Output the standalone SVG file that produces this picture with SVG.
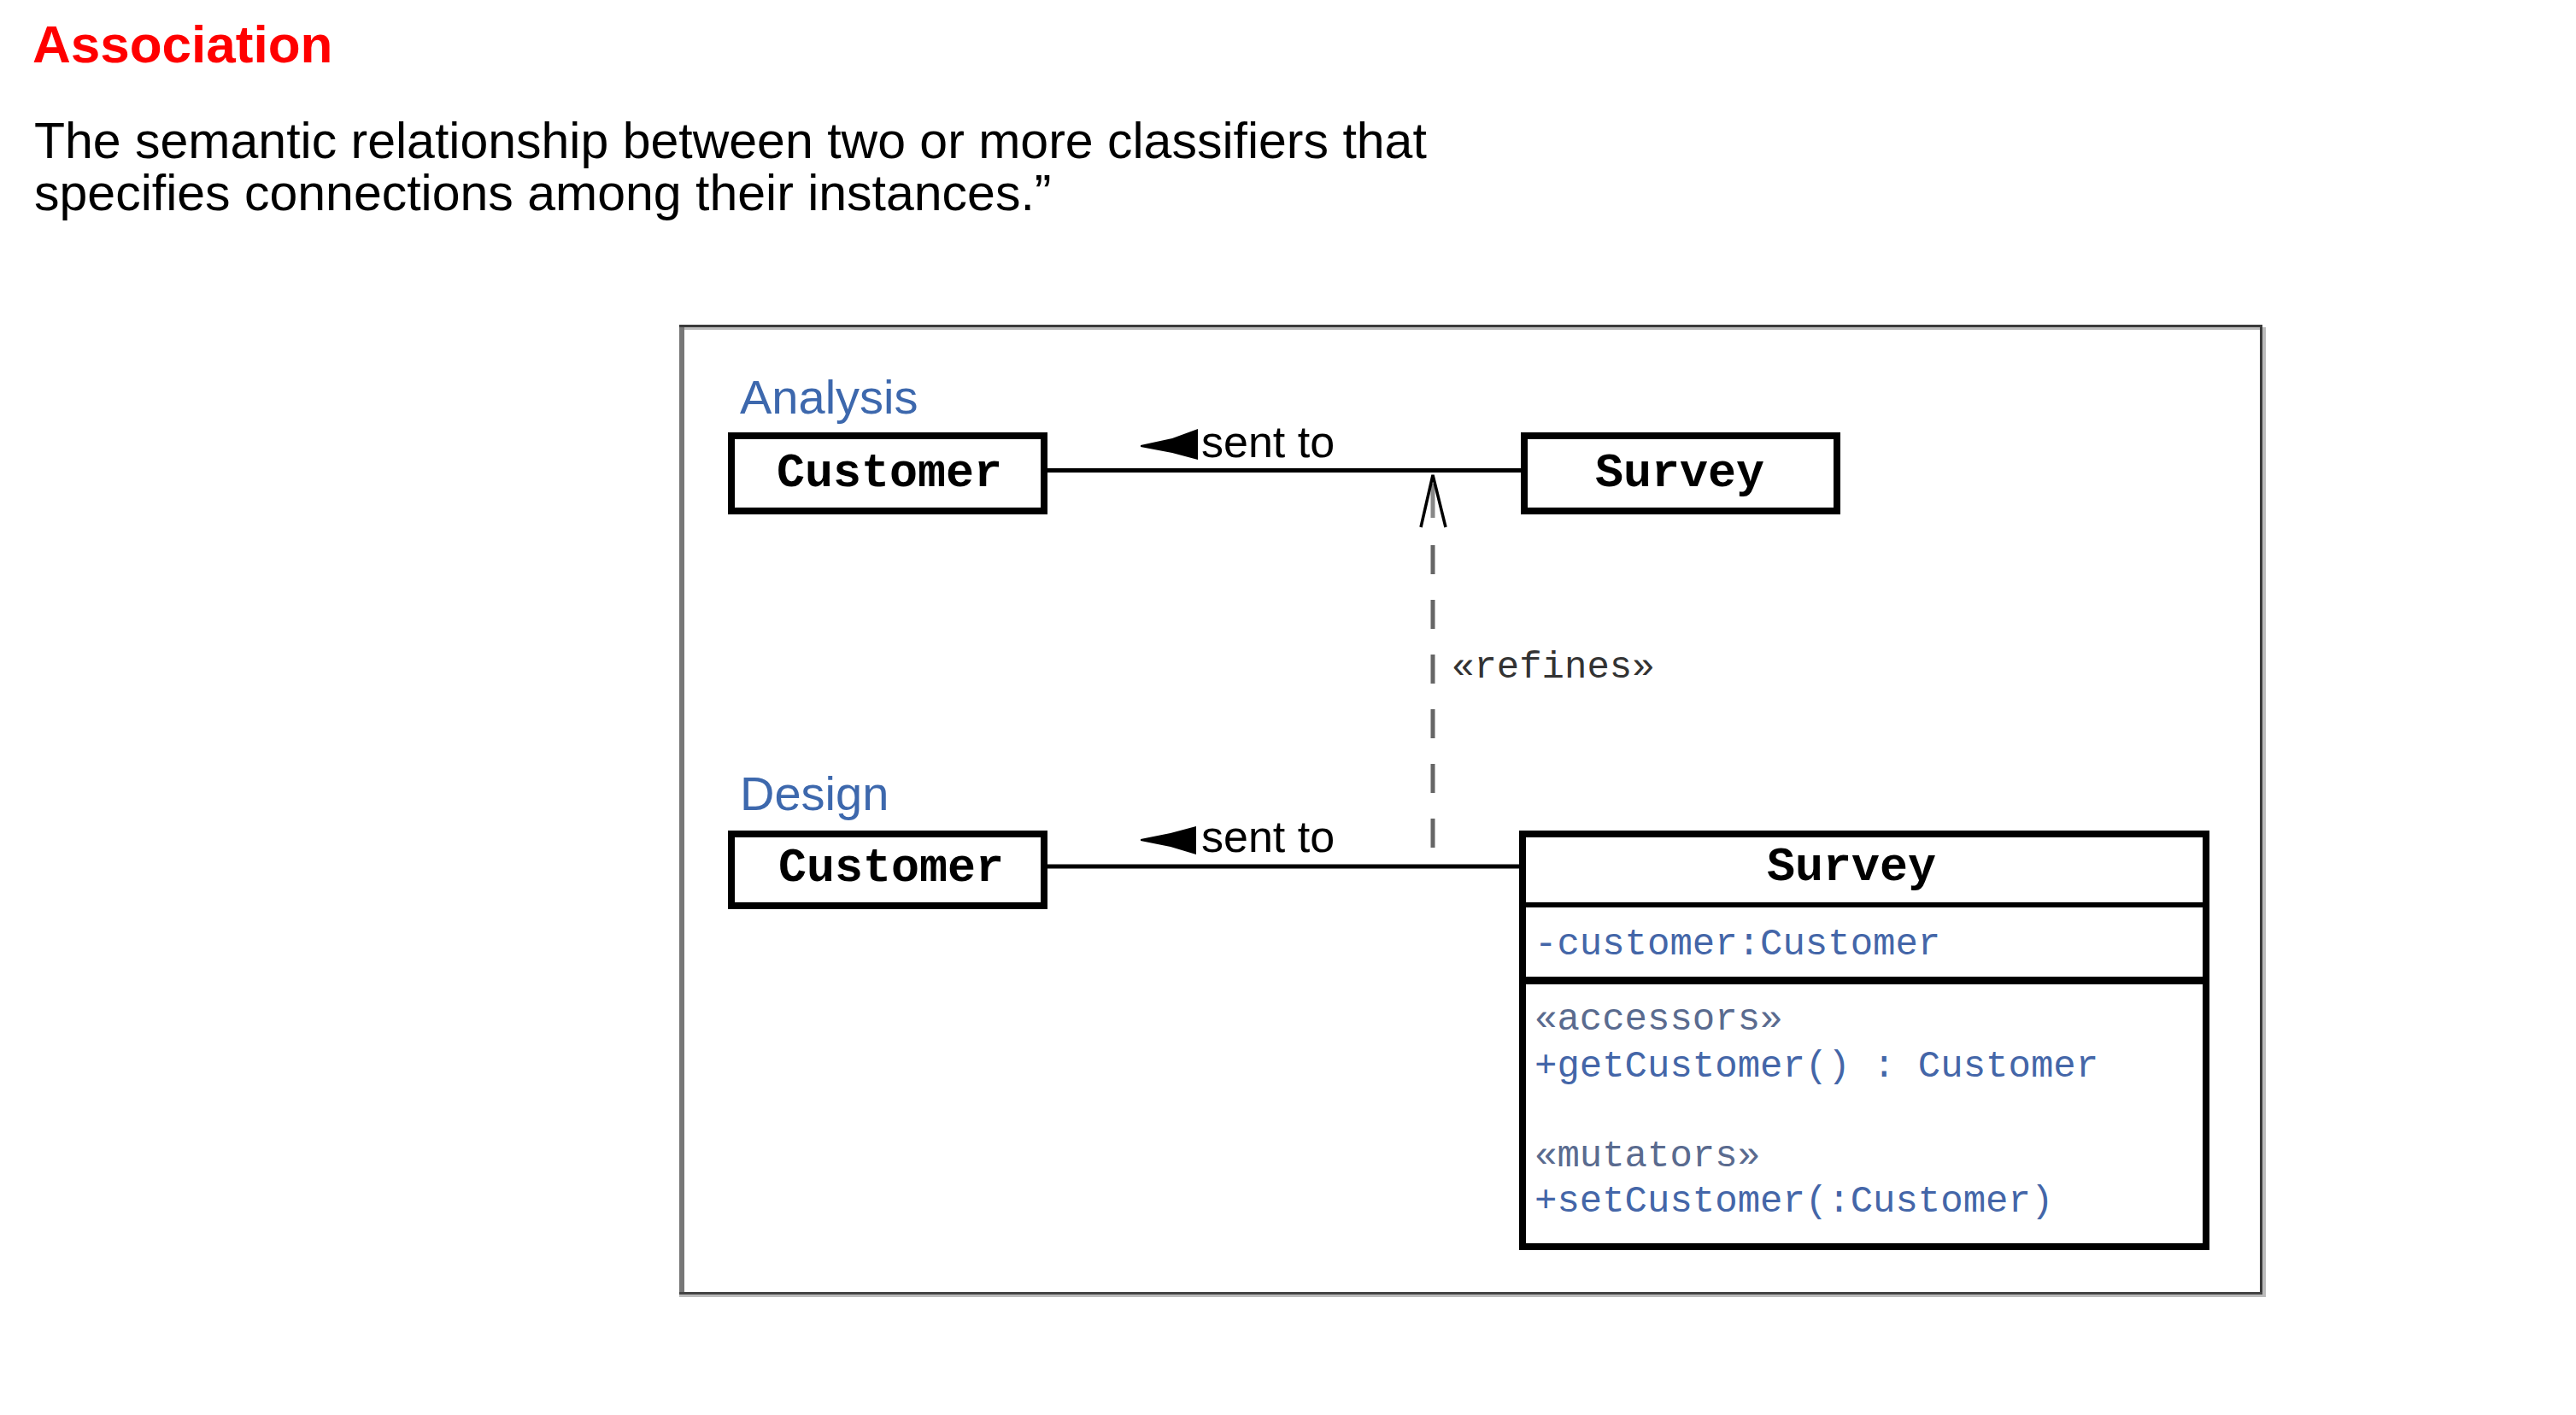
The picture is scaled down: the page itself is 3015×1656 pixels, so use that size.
<svg xmlns="http://www.w3.org/2000/svg" width="3015" height="1656" viewBox="0 0 3015 1656">
<style>
.sans{font-family:"Liberation Sans",Arial,sans-serif}
.mono{font-family:"Liberation Mono","Courier New",monospace}
.title{font-size:62px;font-weight:bold;fill:#ff0000}
.body{font-size:59px;fill:#000}
.pkg{font-size:56px;fill:#3d68ad}
.box{fill:#fff;stroke:#000;stroke-width:8}
.cls{font-size:55px;font-weight:bold;fill:#000;text-anchor:middle}
.assoc{stroke:#000;stroke-width:5;fill:none}
.lbl{font-size:52px;fill:#000}
.attr{font-size:44px;fill:#4466a8}
.stereo{font-size:44px;fill:#5a6b8f}
</style>
<rect width="3015" height="1656" fill="#fff"/>
<text class="sans title" x="38" y="73">Association</text>
<text class="sans body" x="40" y="185">The semantic relationship between two or more classifiers that</text>
<text class="sans body" x="40" y="246">specifies connections among their instances.”</text>
<g id="frame">
<rect x="795" y="380" width="6" height="1137" fill="#777"/>
<rect x="801" y="383" width="1844" height="3" fill="#bbb"/>
<rect x="2648" y="383" width="4" height="1134" fill="#bbb"/>
<rect x="795" y="1515" width="1857" height="3" fill="#bbb"/>
<rect x="795" y="380" width="1853" height="3" fill="#3a3a3a"/>
<rect x="2645" y="380" width="3" height="1135" fill="#3a3a3a"/>
<rect x="795" y="1512" width="1853" height="3" fill="#444"/>
</g>
<text id="label-analysis" class="sans pkg" x="866" y="484">Analysis</text>
<text id="label-design" class="sans pkg" x="866" y="948">Design</text>
<g id="connectors">
<line class="assoc" x1="1226" y1="550.5" x2="1780" y2="550.5"/>
<polygon points="1335,521 1372,513 1402,502 1402,538 1372,530 1335,523" fill="#000"/>
<text class="sans lbl" x="1406" y="535">sent to</text>
<line class="assoc" x1="1226" y1="1014" x2="1778" y2="1014"/>
<polygon points="1335,982 1370,975 1400,967 1400,1000 1370,991 1335,984" fill="#000"/>
<text class="sans lbl" x="1406" y="997">sent to</text>
<line x1="1677" y1="638" x2="1677" y2="992" stroke="#666" stroke-width="5" stroke-dasharray="34 30"/>
<line x1="1677" y1="566" x2="1677" y2="606" stroke="#888" stroke-width="5"/>
<polyline points="1663,617 1677,556 1692,617" fill="none" stroke="#000" stroke-width="3.5"/>
<text class="mono" x="1699" y="793" font-size="44" fill="#333">«refines»</text>
</g>
<g id="analysis-customer">
<rect class="box" x="856" y="510" width="366" height="88"/>
<text class="mono cls" x="1041" y="569">Customer</text>
</g>
<g id="analysis-survey">
<rect class="box" x="1784" y="510" width="366" height="88"/>
<text class="mono cls" x="1966" y="569">Survey</text>
</g>
<g id="design-customer">
<rect class="box" x="856" y="976" width="366" height="84"/>
<text class="mono cls" x="1043" y="1031">Customer</text>
</g>
<g id="design-survey">
<rect class="box" x="1782" y="976" width="800" height="483"/>
<line x1="1782" y1="1059" x2="2582" y2="1059" stroke="#000" stroke-width="6"/>
<line x1="1782" y1="1147.5" x2="2582" y2="1147.5" stroke="#000" stroke-width="9"/>
<text class="mono cls" x="2167" y="1030">Survey</text>
<text class="mono attr" x="1796" y="1117">-customer:Customer</text>
<text class="mono stereo" x="1796" y="1205">«accessors»</text>
<text class="mono attr" x="1796" y="1260">+getCustomer() : Customer</text>
<text class="mono stereo" x="1796" y="1365">«mutators»</text>
<text class="mono attr" x="1796" y="1418">+setCustomer(:Customer)</text>
</g>
</svg>
